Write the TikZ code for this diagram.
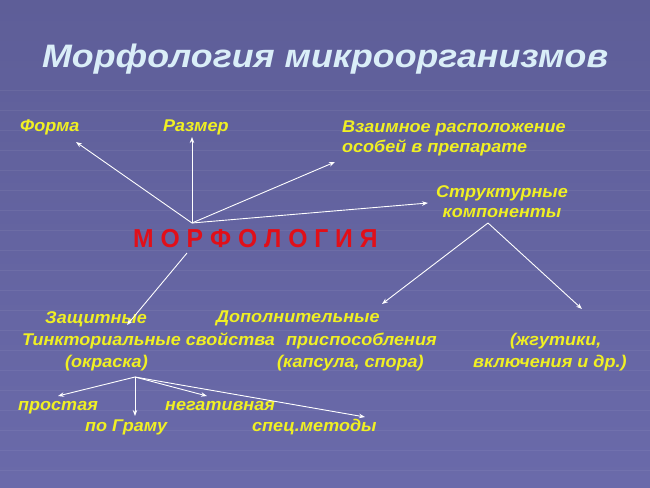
\documentclass[tikz,border=0pt]{standalone}
\usepackage{fontspec}
\setmainfont{Liberation Sans}
\newfontfamily\lblfont[FakeStretch=1.06]{Liberation Sans}
\newfontfamily\titlefont[FakeStretch=1.1]{Liberation Sans}
\newfontfamily\morphfont[FakeStretch=0.95]{Liberation Sans}
\usetikzlibrary{arrows.meta}
\definecolor{bgtop}{RGB}{94,94,152}
\definecolor{bgmid}{RGB}{64,64,118}
\definecolor{bgbot}{RGB}{106,106,170}
\definecolor{lblyellow}{RGB}{240,240,35}
\definecolor{titleblue}{RGB}{218,238,248}
\definecolor{morphred}{RGB}{225,15,25}
\tikzset{
  lbl/.style={anchor=base west, inner sep=0pt, text=lblyellow, font=\lblfont\fontsize{17}{20}\selectfont\bfseries\itshape},
  arr/.style={draw=white, line width=0.9pt, -{Stealth[length=6pt,width=4.5pt]}},
}
\begin{document}
\begin{tikzpicture}[x=1pt,y=-1pt]
\shade[top color=bgtop, middle color=bgmid, bottom color=bgbot] (0,0) rectangle (650,487);
\useasboundingbox (0,0) rectangle (650,487);
\foreach \gy in {90,110,...,470} \draw[white, opacity=0.06, line width=1pt] (0,\gy) -- (650,\gy);
\node[anchor=base west, inner sep=0pt, text=titleblue, font=\titlefont\fontsize{32.5}{36}\selectfont\bfseries\itshape] (title) at (42,67) {Морфология микроорганизмов};
\node[lbl] (forma) at (20,131) {Форма}; \node[lbl] (razmer) at (163,131) {Размер};
\node[lbl, align=left] (vzaim) at (342,152) {Взаимное расположение\\особей в препарате};
\node[lbl, align=center] (strukt) at (436,217) {Структурные\\компоненты};
\node[anchor=base west, inner sep=0pt, text=morphred, font=\morphfont\fontsize{26}{30}\selectfont\bfseries] (morph) at (133,247) {М О Р Ф О Л О Г И Я};
\node[lbl] (zasch) at (45,323) {Защитные}; \node[lbl] (tinkt) at (22,345) {Тинкториальные свойства}; \node[lbl] (okr) at (65,367) {(окраска)};
\node[lbl] (dopoln) at (216,322) {Дополнительные}; \node[lbl] (prisp) at (286,345) {приспособления}; \node[lbl] (kaps) at (277,367) {(капсула, спора)};
\node[lbl] (zhgut) at (510,345) {(жгутики,}; \node[lbl] (vkl) at (473,367) {включения и др.)};
\node[lbl] (prost) at (18,410) {простая}; \node[lbl] (gram) at (85,431) {по Граму}; \node[lbl] (negat) at (165,410) {негативная}; \node[lbl] (spec) at (252,431) {спец.методы};
\coordinate (hub) at (192,223); \coordinate (morphlow) at (187,253); \coordinate (struktlow) at (488,223); \coordinate (okrlow) at (135,377);
\coordinate (tforma) at (76,142); \coordinate (trazmer) at (192,137); \coordinate (tvzaim) at (335,162); \coordinate (tstrukt) at (428,203);
\coordinate (tzasch) at (127,325); \coordinate (tdopoln) at (382,304); \coordinate (tzhgut) at (582,309);
\coordinate (tprost) at (58,396); \coordinate (tgram) at (135,416); \coordinate (tnegat) at (207,396); \coordinate (tspec) at (365,417);
\foreach \t in {tforma,trazmer,tvzaim,tstrukt} \draw[arr] (hub) -- (\t);
\draw[arr] (morphlow) -- (tzasch);
\draw[arr] (struktlow) -- (tdopoln); \draw[arr] (struktlow) -- (tzhgut);
\foreach \t in {tprost,tgram,tnegat,tspec} \draw[arr] (okrlow) -- (\t);
\end{tikzpicture}
\end{document}
